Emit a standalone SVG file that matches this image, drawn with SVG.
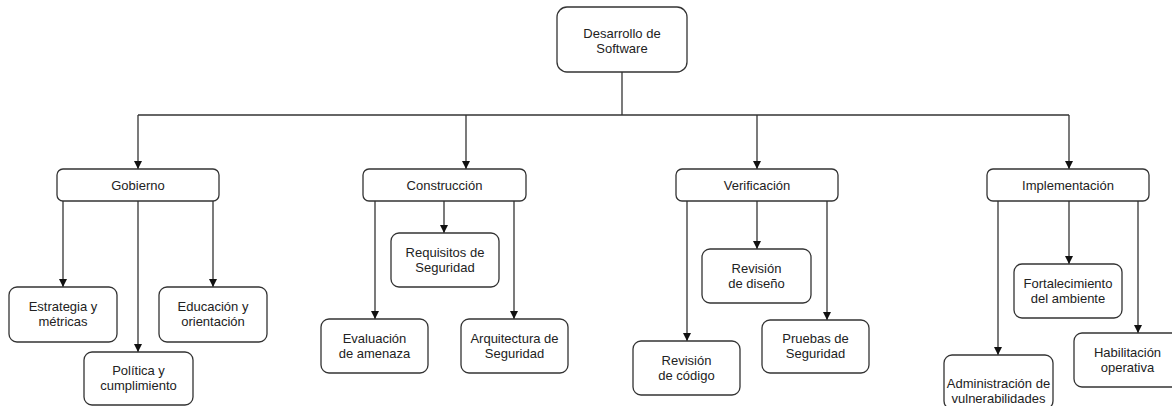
<svg xmlns="http://www.w3.org/2000/svg" width="1172" height="406" viewBox="0 0 1172 406">
<style>
.box{fill:#fff;stroke:#333;stroke-width:1.3}
.lbl{font-family:"Liberation Sans",Arial,sans-serif;font-size:13px;fill:#222;text-anchor:middle}
.cn{fill:none;stroke:#333;stroke-width:1.3}
.ar{marker-end:url(#ah)}
</style>
<defs>
<marker id="ah" markerUnits="userSpaceOnUse" markerWidth="8" markerHeight="8" viewBox="0 0 8 8" refX="8" refY="4" orient="auto">
<path d="M0,0 L8,4 L0,8 Z" fill="#111"/>
</marker>
</defs>
<rect width="1172" height="406" fill="#fff"/>
<g id="connectors">
<path class="cn" d="M622,72 V115"/>
<path class="cn" d="M138,115 H1069"/>
<path class="cn ar" d="M138,115 V169"/>
<path class="cn ar" d="M466,115 V169"/>
<path class="cn ar" d="M757,115 V169"/>
<path class="cn ar" d="M1069,115 V169"/>
<path class="cn ar" d="M63,201 V287"/>
<path class="cn ar" d="M138,201 V352"/>
<path class="cn ar" d="M213,201 V287"/>
<path class="cn ar" d="M375,201 V319"/>
<path class="cn ar" d="M444,201 V233"/>
<path class="cn ar" d="M514,201 V319"/>
<path class="cn ar" d="M687,201 V341"/>
<path class="cn ar" d="M757,201 V249"/>
<path class="cn ar" d="M827,201 V320"/>
<path class="cn ar" d="M998,201 V355"/>
<path class="cn ar" d="M1069,201 V264"/>
<path class="cn ar" d="M1138,201 V333"/>
</g>
<g id="root"><rect class="box" x="557" y="7" width="130" height="65" rx="10"/><text class="lbl" x="622" y="37.5">Desarrollo de</text><text class="lbl" x="622" y="52.5">Software</text></g>
<g id="gobierno"><rect class="box" x="57" y="169" width="162" height="32" rx="6"/><text class="lbl" x="138" y="189.5">Gobierno</text></g>
<g id="construccion"><rect class="box" x="363" y="169" width="163" height="32" rx="6"/><text class="lbl" x="444.5" y="189.5">Construcción</text></g>
<g id="verificacion"><rect class="box" x="676" y="169" width="162" height="32" rx="6"/><text class="lbl" x="757" y="189.5">Verificación</text></g>
<g id="implementacion"><rect class="box" x="987" y="169" width="162" height="32" rx="6"/><text class="lbl" x="1068" y="189.5">Implementación</text></g>
<g id="estrategia"><rect class="box" x="9" y="287" width="108" height="55" rx="8"/><text class="lbl" x="63" y="311">Estrategia y</text><text class="lbl" x="63" y="326">métricas</text></g>
<g id="educacion"><rect class="box" x="159" y="287" width="108" height="55" rx="8"/><text class="lbl" x="213" y="311">Educación y</text><text class="lbl" x="213" y="326">orientación</text></g>
<g id="politica"><rect class="box" x="84" y="352" width="109" height="53" rx="8"/><text class="lbl" x="138.5" y="375">Política y</text><text class="lbl" x="138.5" y="390">cumplimiento</text></g>
<g id="requisitos"><rect class="box" x="391" y="233" width="108" height="54" rx="8"/><text class="lbl" x="445" y="256.5">Requisitos de</text><text class="lbl" x="445" y="271.5">Seguridad</text></g>
<g id="evaluacion"><rect class="box" x="321" y="319" width="107" height="54" rx="8"/><text class="lbl" x="374.5" y="342.5">Evaluación</text><text class="lbl" x="374.5" y="357.5">de amenaza</text></g>
<g id="arquitectura"><rect class="box" x="461" y="319" width="107" height="54" rx="8"/><text class="lbl" x="514.5" y="342.5">Arquitectura de</text><text class="lbl" x="514.5" y="357.5">Seguridad</text></g>
<g id="revision-diseno"><rect class="box" x="702" y="249" width="109" height="54" rx="8"/><text class="lbl" x="756.5" y="272.5">Revisión</text><text class="lbl" x="756.5" y="287.5">de diseño</text></g>
<g id="pruebas"><rect class="box" x="762" y="320" width="107" height="53" rx="8"/><text class="lbl" x="815.5" y="343">Pruebas de</text><text class="lbl" x="815.5" y="358">Seguridad</text></g>
<g id="revision-codigo"><rect class="box" x="633" y="341" width="107" height="54" rx="8"/><text class="lbl" x="686.5" y="364.5">Revisión</text><text class="lbl" x="686.5" y="379.5">de código</text></g>
<g id="fortalecimiento"><rect class="box" x="1014" y="264" width="108" height="54" rx="8"/><text class="lbl" x="1068" y="287.5">Fortalecimiento</text><text class="lbl" x="1068" y="302.5">del ambiente</text></g>
<g id="habilitacion"><rect class="box" x="1074" y="333" width="107" height="54" rx="8"/><text class="lbl" x="1127.5" y="357">Habilitación</text><text class="lbl" x="1127.5" y="372">operativa</text></g>
<g id="administracion"><rect class="box" x="944" y="355" width="109" height="54" rx="8"/><text class="lbl" x="998.5" y="387.5">Administración de</text><text class="lbl" x="998.5" y="403">vulnerabilidades</text></g>
</svg>
